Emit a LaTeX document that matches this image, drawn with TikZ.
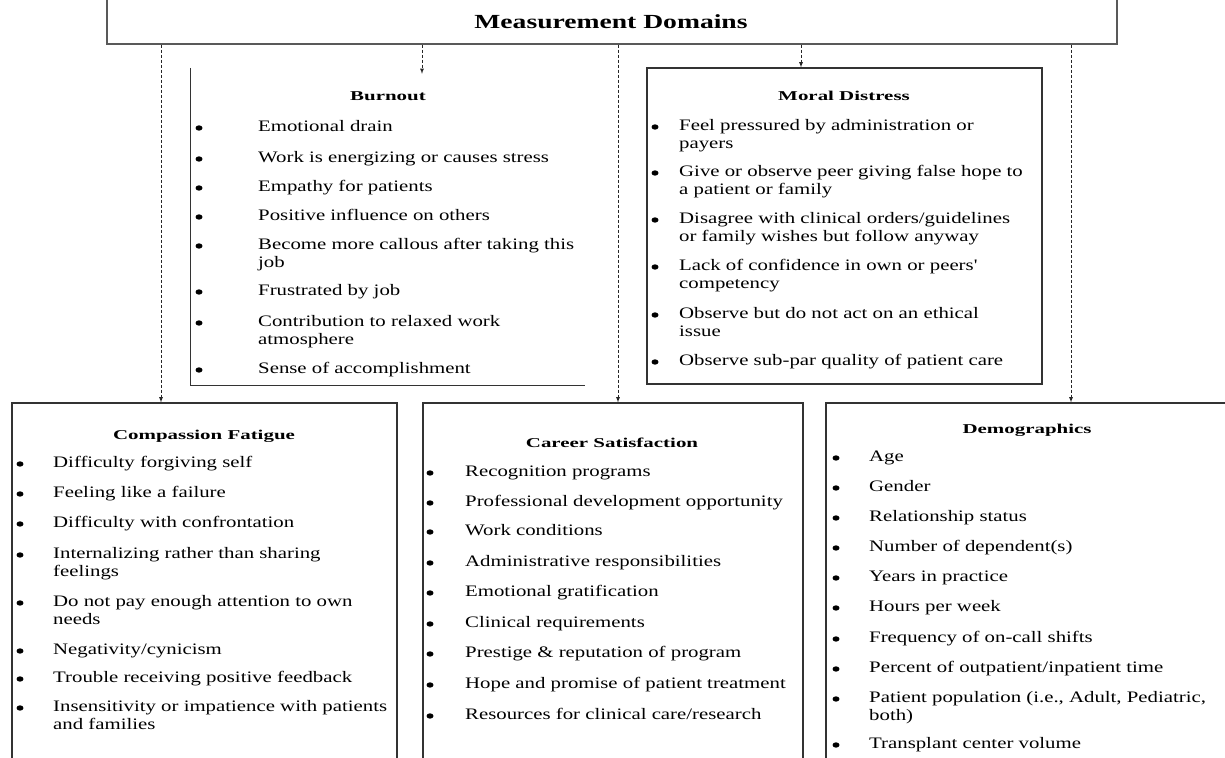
\documentclass[tikz,border=0pt]{standalone}
\usepackage{fontspec}
\setmainfont{Liberation Serif}
\newfontfamily\bodyfont[FakeStretch=1.3]{Liberation Serif}
\newfontfamily\headfont[FakeStretch=1.55]{Liberation Serif}
\newfontfamily\titlefont[FakeStretch=1.38]{Liberation Serif}
\usetikzlibrary{arrows,positioning}

\begin{document}
\begin{tikzpicture}[x=1pt,y=-1pt,
	box/.style={draw=black!80,line width=1.2pt,inner sep=0pt},
	head/.style={font=\headfont\fontsize{13.5}{16}\selectfont\bfseries},
	item/.style={anchor=north west,inner sep=0pt,align=left,font=\bodyfont\fontsize{16}{17.5}\selectfont},
	link/.style={->,>=latex,densely dashed,line width=0.8pt,black!85}]
	
	\useasboundingbox (0,0) rectangle (1225,757);
	
	% top box
	\node[box,draw=black!65,minimum width=1010pt,minimum height=74pt] (domains) at (612,7) {};
	\node[font=\titlefont\fontsize{20}{22}\selectfont\bfseries] (title) at (611,22) {Measurement Domains};
	
	% boxes
	\node[inner sep=0pt,minimum width=394pt,minimum height=317pt] (bo) at (388,226.5) {};
	\draw[black!80,line width=1.2pt] (bo.north west) -- (bo.south west) -- (bo.south east);
	\node[box,minimum width=395pt,minimum height=316pt] (md) at (844.5,226) {};
	\node[box,minimum width=385pt,minimum height=377pt] (cf) at (204.5,591.5) {};
	\node[box,minimum width=380pt,minimum height=377pt] (cs) at (613,591.5) {};
	\node[box,minimum width=414pt,minimum height=377pt] (dm) at (1033,591.5) {};
	
	% arrows
	\coordinate (xcf) at (161,0);
	\coordinate (xbo) at (422,0);
	\coordinate (xcs) at (618,0);
	\coordinate (xmd) at (801,0);
	\coordinate (xdm) at (1071,0);
	\draw[link] (domains.south -| xcf) -- (cf.north -| xcf);
	\draw[link] (domains.south -| xbo) -- ([yshift=-6pt]bo.north -| xbo);
	\draw[link] (domains.south -| xcs) -- (cs.north -| xcs);
	\draw[link] (domains.south -| xmd) -- (md.north -| xmd);
	\draw[link] (domains.south -| xdm) -- (dm.north -| xdm);
	
	% titles
	\node[head] (bot) at (388,96) {Burnout};
	\node[head] (mdt) at (844,96) {Moral Distress};
	\node[head] (cft) at (204,436) {Compassion Fatigue};
	\node[head] (cst) at (612,443) {Career Satisfaction};
	\node[head] (dmt) at (1027,430) {Demographics};
	
	% Burnout
	\foreach \y/\t in {128/Emotional drain, 159/Work is energizing or causes stress,
		188/Empathy for patients, 217/Positive influence on others,
		246/{Become more callous after taking this\\job}, 292/Frustrated by job,
		323/{Contribution to relaxed work\\atmosphere}, 370/Sense of accomplishment}{
		\fill (199,\y) ellipse (3.5pt and 2.7pt);
		\node[item] (bo\y) at (258,\y-7.5) {\t};
	}
	
	% Moral Distress
	\foreach \y/\t in {127/{Feel pressured by administration or\\payers},
		173/{Give or observe peer giving false hope to\\a patient or family},
		220/{Disagree with clinical orders/guidelines\\or family wishes but follow anyway},
		267/{Lack of confidence in own or peers'\\competency},
		315/{Observe but do not act on an ethical\\issue},
		362/Observe sub-par quality of patient care}{
		\fill (655,\y) ellipse (3.5pt and 2.7pt);
		\node[item] (md\y) at (679,\y-7.5) {\t};
	}
	
	% Compassion Fatigue
	\foreach \y/\t in {464/Difficulty forgiving self, 494/Feeling like a failure,
		524/Difficulty with confrontation,
		555/{Internalizing rather than sharing\\feelings},
		603/{Do not pay enough attention to own\\needs},
		651/{Negativity/cynicism}, 679/Trouble receiving positive feedback,
		708/{Insensitivity or impatience with patients\\and families}}{
		\fill (20,\y) ellipse (3.5pt and 2.7pt);
		\node[item] (cf\y) at (53,\y-7.5) {\t};
	}
	
	% Career Satisfaction
	\foreach \y/\t in {473/Recognition programs, 503/Professional development opportunity,
		532/Work conditions, 563/Administrative responsibilities,
		593/Emotional gratification, 624/Clinical requirements,
		654/Prestige \& reputation of program, 685/Hope and promise of patient treatment,
		716/{Resources for clinical care/research}}{
		\fill (430,\y) ellipse (3.5pt and 2.7pt);
		\node[item] (cs\y) at (465,\y-7.5) {\t};
	}
	
	% Demographics
	\foreach \y/\t in {458/Age, 488/Gender, 518/Relationship status,
		548/Number of dependent(s), 578/Years in practice, 608/Hours per week,
		639/Frequency of on-call shifts, 669/{Percent of outpatient/inpatient time},
		699/{Patient population (i.e., Adult, Pediatric,\\both)},
		745/Transplant center volume}{
		\fill (836,\y) ellipse (3.5pt and 2.7pt);
		\node[item] (dm\y) at (869,\y-7.5) {\t};
	}
	
\end{tikzpicture}
\end{document}
